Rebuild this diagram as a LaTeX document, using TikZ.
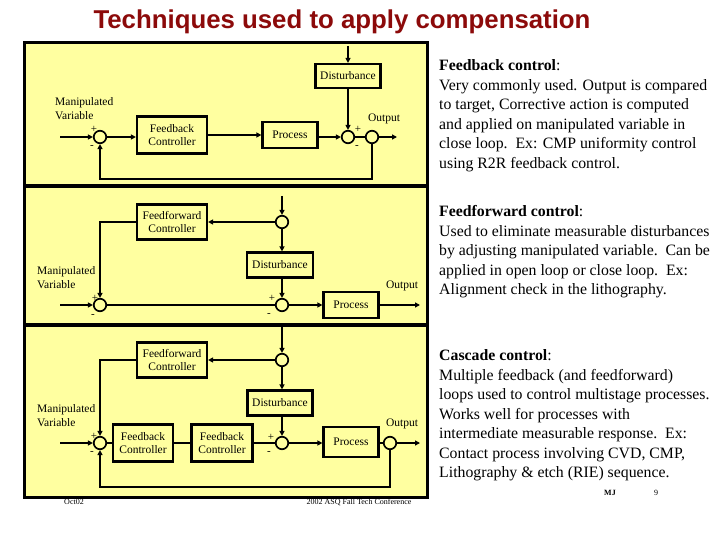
\documentclass[tikz,border=0pt]{standalone}
\usepackage{fontspec}
\setmainfont{Liberation Serif}
\newfontfamily\titlefont{Liberation Sans}
\usetikzlibrary{arrows.meta}
\definecolor{panelbg}{RGB}{255,255,160}
\definecolor{titlered}{RGB}{140,10,10}
\tikzset{
  blk/.style={draw, line width=2.2pt, fill=panelbg, align=center, inner sep=1pt,
    font=\fontsize{11.5}{13}\selectfont},
  sumc/.style={circle, draw, line width=1.7pt, minimum size=12.5pt, inner sep=0pt, fill=panelbg},
  arr/.style={line width=1.6pt, -{Triangle[length=5pt,width=5pt]}},
  ln/.style={line width=1.6pt},
  lbl/.style={font=\fontsize{11.5}{14}\selectfont, inner sep=0pt},
  sgn/.style={font=\fontsize{11}{11}\selectfont, inner sep=0pt},
  para/.style={anchor=north west, align=left, inner sep=0pt,
    font=\fontsize{15.8}{19.5}\selectfont},
  foot/.style={font=\fontsize{8}{8}\selectfont, inner sep=0pt}
}
\begin{document}
\begin{tikzpicture}[x=1pt,y=-1pt]
\useasboundingbox (0,0) rectangle (720,540);
\fill[white] (0,0) rectangle (720,540);
% title
\node[font=\titlefont\bfseries\fontsize{25.8}{28}\selectfont, text=titlered] (title) at (342,22) {Techniques used to apply compensation};
% frame
\fill[panelbg] (24,43) rectangle (427,497);
\draw[line width=3pt] (24,43) rectangle (427,497);
\draw[line width=4pt] (24,186) -- (427,186);
\draw[line width=4pt] (24,325) -- (427,325);

% ---------------- Panel 1: feedback
\node[blk, minimum width=65pt, minimum height=24pt] (dist1) at (348,76) {Disturbance};
\node[blk, minimum width=70pt, minimum height=37pt] (fb1) at (172,135) {Feedback\\Controller};
\node[blk, minimum width=55pt, minimum height=26pt] (proc1) at (290,135) {Process};
\node[sumc] (s11) at (100,137) {};
\node[sumc] (s12) at (348,137) {};
\node[sumc] (s13) at (372,137) {};
\coordinate (top1) at (348,46);
\coordinate (in1) at (60,137);
\coordinate (out1) at (397,137);
\coordinate (fbr1) at (372,179);
\coordinate (fbl1) at (100,179);
\draw[arr] (top1) -- (dist1.north);
\draw[arr] (dist1.south) -- (s12.north);
\draw[arr] (in1) -- (s11.west);
\draw[arr] (s11.east) -- (fb1.west |- s11.east);
\draw[arr] (fb1.east) -- (proc1.west |- fb1.east);
\draw[arr] (proc1.east |- s12.west) -- (s12.west);
\draw[ln] (s12.east) -- (s13.west);
\draw[arr] (s13.east) -- (out1);
\draw[arr] (s13.south) -- (fbr1) -- (fbl1) -- (s11.south);
\node[lbl, align=left, anchor=north west] (mv1) at (55,97) {Manipulated\\Variable};
\node[sgn] (p11) at (94,129) {+};
\node[sgn] (m11) at (92,147) {-};
\node[sgn] (p12) at (358,129) {+};
\node[sgn] (m12) at (357,147) {-};
\node[lbl] (o1) at (384,119) {Output};

% ---------------- Panel 2: feedforward
\node[sumc] (s2t) at (282,222) {};
\node[blk, minimum width=70pt, minimum height=35pt] (ff2) at (172,222) {Feedforward\\Controller};
\node[blk, minimum width=66pt, minimum height=25pt] (dist2) at (280,265) {Disturbance};
\node[sumc] (s21) at (100,305) {};
\node[sumc] (s22) at (282,305) {};
\node[blk, minimum width=55pt, minimum height=26pt] (proc2) at (351,305) {Process};
\coordinate (top2) at (282,196);
\coordinate (in2) at (60,305);
\coordinate (out2) at (420,305);
\coordinate (ffc2) at (100,222);
\draw[arr] (top2) -- (s2t.north);
\draw[arr] (s2t.west) -- (ff2.east);
\draw[arr] (ff2.west) -- (ffc2) -- (s21.north);
\draw[arr] (s2t.south) -- (dist2.north -| s2t.south);
\draw[arr] (dist2.south -| s22.north) -- (s22.north);
\draw[arr] (in2) -- (s21.west);
\draw[ln] (s21.east) -- (s22.west);
\draw[arr] (s22.east) -- (proc2.west);
\draw[arr] (proc2.east) -- (out2);
\node[lbl, align=left, anchor=north west] (mv2) at (37,266) {Manipulated\\Variable};
\node[sgn] (p21) at (95,298) {+};
\node[sgn] (m21) at (93,316) {-};
\node[sgn] (p22) at (272,298) {+};
\node[sgn] (m22) at (269,315) {-};
\node[lbl] (o2) at (402,286) {Output};

% ---------------- Panel 3: cascade
\node[sumc] (s3t) at (282,360) {};
\node[blk, minimum width=70pt, minimum height=35pt] (ff3) at (172,360) {Feedforward\\Controller};
\node[blk, minimum width=65pt, minimum height=25pt] (dist3) at (280,403) {Disturbance};
\node[sumc] (s31) at (100,443) {};
\node[sumc] (s32) at (282,443) {};
\node[sumc] (s33) at (390,443) {};
\node[blk, minimum width=60pt, minimum height=37pt] (fbA) at (143,443) {Feedback\\Controller};
\node[blk, minimum width=61pt, minimum height=37pt] (fbB) at (222,443) {Feedback\\Controller};
\node[blk, minimum width=55pt, minimum height=30pt] (proc3) at (351,442) {Process};
\coordinate (top3) at (282,327);
\coordinate (in3) at (60,443);
\coordinate (out3) at (420,443);
\coordinate (ffc3) at (100,360);
\coordinate (fbr3) at (390,487);
\coordinate (fbl3) at (100,487);
\draw[arr] (top3) -- (s3t.north);
\draw[arr] (s3t.west) -- (ff3.east);
\draw[arr] (ff3.west) -- (ffc3) -- (s31.north);
\draw[arr] (s3t.south) -- (dist3.north -| s3t.south);
\draw[arr] (dist3.south -| s32.north) -- (s32.north);
\draw[arr] (in3) -- (s31.west);
\draw[ln] (s31.east) -- (fbA.west);
\draw[line width=2.2pt] (fbA.east) -- (fbB.west);
\draw[ln] (fbB.east) -- (s32.west);
\draw[arr] (s32.east) -- (proc3.west |- s32.east);
\draw[ln] (proc3.east |- s33.west) -- (s33.west);
\draw[arr] (s33.east) -- (out3);
\draw[arr] (s33.south) -- (fbr3) -- (fbl3) -- (s31.south);
\node[lbl, align=left, anchor=north west] (mv3) at (37,404) {Manipulated\\Variable};
\node[sgn] (p31) at (94,436) {+};
\node[sgn] (m31) at (92,453) {-};
\node[sgn] (p32) at (271,437) {+};
\node[sgn] (m32) at (269,453) {-};
\node[lbl] (o3) at (402,424) {Output};

% footer
\node[foot] (date) at (74,502) {Oct02};
\node[foot] (conf) at (359,502) {2002 ASQ Fall Tech Conference};
\node[foot, font=\fontsize{8}{8}\selectfont\bfseries] (mj) at (610,493) {MJ};
\node[foot] (pg) at (656,493) {9};

% right text
\node[para] (t1) at (439,59.5) {\textbf{Feedback control}:\\Very commonly used. Output is compared\\to target, Corrective action is computed\\and applied on manipulated variable in\\close loop.\ \ Ex: CMP uniformity control\\using R2R feedback control.};
\node[para] (t2) at (439,205.5) {\textbf{Feedforward control}:\\Used to eliminate measurable disturbances\\by adjusting manipulated variable.\ \ Can be\\applied in open loop or close loop.\ \ Ex:\\Alignment check in the lithography.};
\node[para] (t3) at (439,349.5) {\textbf{Cascade control}:\\Multiple feedback (and feedforward)\\loops used to control multistage processes.\\Works well for processes with\\intermediate measurable response.\ \ Ex:\\Contact process involving CVD, CMP,\\Lithography \& etch (RIE) sequence.};
\end{tikzpicture}
\end{document}
